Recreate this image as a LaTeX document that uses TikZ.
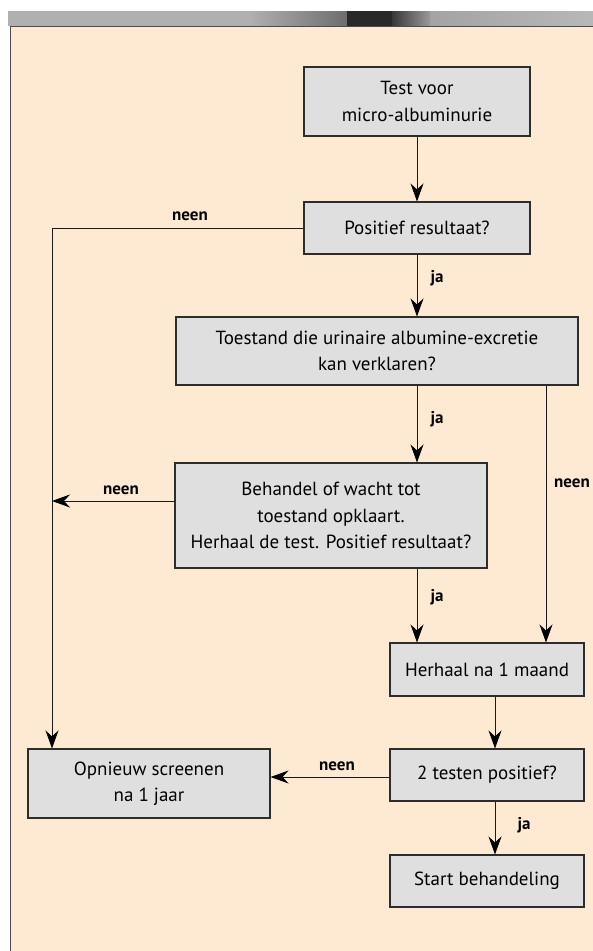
\documentclass[tikz,border=0pt]{standalone}
\usepackage{fontspec}
\setmainfont{PT Sans}
\usepackage{xcolor}
\usetikzlibrary{arrows.meta, positioning}
\definecolor{panel}{RGB}{254,234,210}
\definecolor{boxfill}{RGB}{223,223,223}
\definecolor{boxline}{RGB}{45,45,45}

\begin{document}
\begin{tikzpicture}[x=1pt, y=-1pt,
        box/.style={draw=boxline, line width=1.1pt, fill=boxfill, align=center,
            inner sep=0pt, font=\fontsize{19}{26.5}\selectfont},
        lbl/.style={font=\fontsize{17}{18}\selectfont\bfseries},
        arr/.style={draw=black!90, line width=0.9pt,
            -{Stealth[length=18pt, width=13pt, inset=6pt, color=black]}}]
                % page and header strip
                \useasboundingbox[fill=white] (0,0) rectangle (593,951);
                \fill[black!31] (8,11) rectangle (250,26);
                \shade[left color=black!31, right color=black!57] (250,11) rectangle (347,26);
                \fill[black!84] (347,11) rectangle (392,26);
                \shade[left color=black!78, right color=black!40] (392,11) rectangle (430,26);
                \shade[left color=black!36, right color=black!28] (430,11) rectangle (593,26);
                \fill[panel] (10,26) rectangle (593,951);
                \draw[black!70, line width=0.8pt] (10,951) -- (10,26.5) -- (593,26.5);

                \node[box, minimum width=226, minimum height=69] (test) at (417,101.5) {Test voor\\micro-albuminurie};
                \node[box, minimum width=226, minimum height=52] (pos) at (417,228) {Positief resultaat?};
                \node[box, minimum width=402, minimum height=68] (toest) at (377,351) {Toestand die urinaire albumine-excretie\\kan verklaren?};
                \node[box, minimum width=312, minimum height=105] (behand) at (331,515.5) {Behandel of wacht tot\\toestand opklaart.\\Herhaal de test. Positief resultaat?};
                \node[box, minimum width=194, minimum height=53] (herh) at (487,669.5) {Herhaal na 1 maand};
                \node[box, minimum width=194, minimum height=52] (twee) at (487,775) {2 testen positief?};
                \node[box, minimum width=194, minimum height=52] (start) at (487,881) {Start behandeling};
                \node[box, minimum width=242, minimum height=69] (opn) at (149,783.5) {Opnieuw screenen\\na 1 jaar};

                \coordinate (lcol) at (52,0);
                \coordinate (rcol) at (546,0);
                \coordinate (mcol) at (495,0);

                \draw[arr] (test) -- (pos);
                \draw[arr] (pos.west) -| (opn.north -| lcol);
                \draw[arr] (pos.south) -- (toest.north -| pos.south);
                \draw[arr] (toest.south -| pos.south) -- (behand.north -| pos.south);
                \draw[arr] (toest.south -| rcol) -- (herh.north -| rcol);
                \draw[arr] ([yshift=14.5pt]behand.west) -- ([yshift=14.5pt]behand.west -| lcol);
                \draw[arr] (behand.south -| pos.south) -- (herh.north -| pos.south);
                \draw[arr] (herh.south -| mcol) -- (twee.north -| mcol);
                \draw[arr] ([yshift=-2pt]twee.west) -- ([yshift=-2pt]twee.west -| opn.east);
                \draw[arr] (twee.south -| mcol) -- (start.north -| mcol);

                \node[lbl] (n1) at (190,216) {neen};
                \node[lbl] (j1) at (437,278) {ja};
                \node[lbl] (j2) at (437,419) {ja};
                \node[lbl] (n2) at (121,490) {neen};
                \node[lbl] (n3) at (572,483) {neen};
                \node[lbl] (j3) at (437,597) {ja};
                \node[lbl] (n4) at (337,766) {neen};
                \node[lbl] (j4) at (524,825) {ja};
            \end{tikzpicture}
\end{document}
